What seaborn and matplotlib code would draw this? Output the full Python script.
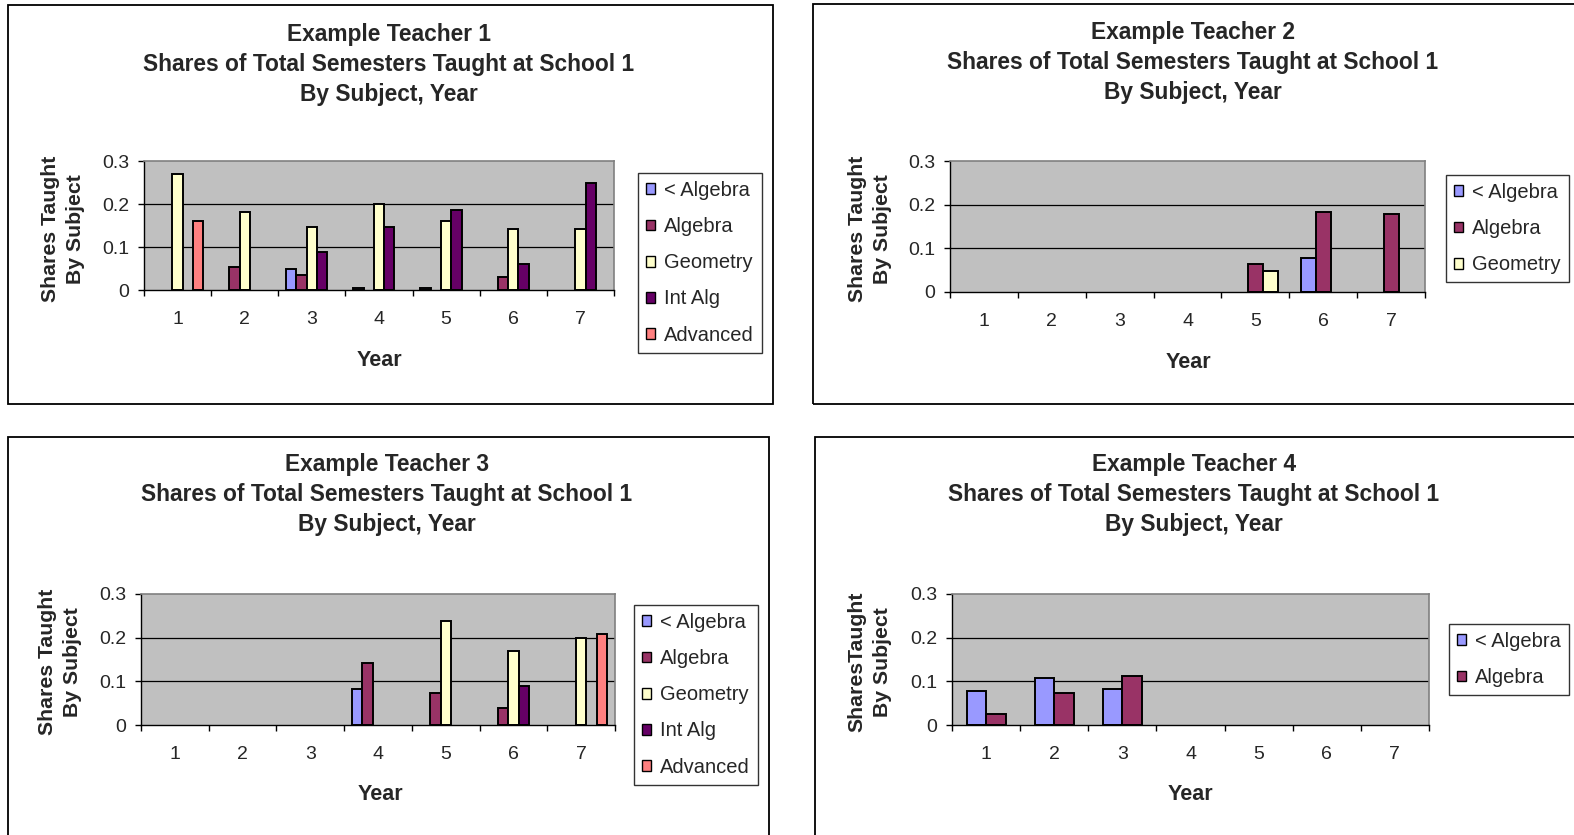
import numpy as np
import pandas as pd
import matplotlib
matplotlib.use("Agg")
import matplotlib.pyplot as plt
from matplotlib.patches import Rectangle, Patch
from matplotlib.ticker import FixedLocator, NullFormatter, FixedFormatter
import seaborn as sns

sns.set_theme(style="white")
plt.rcParams["font.family"] = ["Liberation Sans", "DejaVu Sans"]

nan = np.nan

# ---- data -------------------------------------------------------------
years = ["1", "2", "3", "4", "5", "6", "7"]
subjects = ["< Algebra", "Algebra", "Geometry", "Int Alg", "Advanced"]
colors = ["#9999FF", "#993366", "#FFFFCC", "#660066", "#FF8080"]

teacher_names = ["Example Teacher 1", "Example Teacher 2",
                 "Example Teacher 3", "Example Teacher 4"]
subtitle_lines = ["Shares of Total Semesters Taught at School 1",
                  "By Subject, Year"]
ylabels = ["Shares Taught\nBy Subject", "Shares Taught\nBy Subject",
           "Shares Taught\nBy Subject", "SharesTaught\nBy Subject"]
xlabel = "Year"
yticks = [0, 0.1, 0.2, 0.3]
ytick_labels = ["0", "0.1", "0.2", "0.3"]

# Teacher 1
t1_below_alg = [nan, nan, 0.049, 0.005, 0.005, nan, nan]
t1_alg       = [nan, 0.053, 0.036, nan, nan, 0.031, nan]
t1_geom      = [0.270, 0.181, 0.146, 0.200, 0.160, 0.141, 0.141]
t1_int_alg   = [nan, nan, 0.088, 0.146, 0.185, 0.061, 0.248]
t1_advanced  = [0.160, nan, nan, nan, nan, nan, nan]

# Teacher 2
t2_below_alg = [nan, nan, nan, nan, nan, 0.079, nan]
t2_alg       = [nan, nan, nan, nan, 0.065, 0.184, 0.179]
t2_geom      = [nan, nan, nan, nan, 0.049, nan, nan]

# Teacher 3
t3_below_alg = [nan, nan, nan, 0.083, nan, nan, nan]
t3_alg       = [nan, nan, nan, 0.143, 0.073, 0.039, nan]
t3_geom      = [nan, nan, nan, nan, 0.239, 0.169, 0.200]
t3_int_alg   = [nan, nan, nan, nan, nan, 0.090, nan]
t3_advanced  = [nan, nan, nan, nan, nan, nan, 0.209]

# Teacher 4
t4_below_alg = [0.078, 0.108, 0.083, nan, nan, nan, nan]
t4_alg       = [0.025, 0.073, 0.112, nan, nan, nan, nan]

panels = [
    [t1_below_alg, t1_alg, t1_geom, t1_int_alg, t1_advanced],
    [t2_below_alg, t2_alg, t2_geom],
    [t3_below_alg, t3_alg, t3_geom, t3_int_alg, t3_advanced],
    [t4_below_alg, t4_alg],
]

# ---- layout (pixels, origin top-left) --------------------------------
W, H = 1574, 835
fig = plt.figure(figsize=(W / 100, H / 100), dpi=100)
fig.patch.set_facecolor("white")


def fx(px):
    return px / W


def fy(py):
    return 1 - py / H


# chart-area frames: left, top, right, bottom
frames = [(8, 5, 773, 404), (813, 4, 1580, 404),
          (8, 437, 769, 840), (815, 437, 1580, 840)]
# plot areas: left, top, right, bottom
plot_areas = [(144, 161, 614, 290), (950, 161, 1425, 292),
              (141, 594, 615, 725), (952, 594, 1429, 725)]
# title line centres
title_x = [389, 1193, 387, 1194]
title_y = [(34, 64, 95), (33, 62, 93), (465, 495, 525), (465, 495, 525)]
ylabel_xy = [(63, 229), (870, 229), (60, 662), (870, 662)]
xlabel_xy = [(379, 361), (1188, 363), (380, 795), (1190, 795)]
legend_xy = [(638, 173), (1446, 175), (634, 605), (1449, 624)]

for i, series in enumerate(panels):
    l, t, r, b = frames[i]
    fig.patches.append(Rectangle((fx(l), fy(b)), (r - l) / W, (b - t) / H,
                                 transform=fig.transFigure, fill=False,
                                 edgecolor="black", linewidth=1.3, zorder=0))

    pl, pt, pr, pb = plot_areas[i]
    ax = fig.add_axes([fx(pl), fy(pb), (pr - pl) / W, (pb - pt) / H])
    ax.set_facecolor("#C0C0C0")

    n = len(series)
    rows = []
    for s_idx, vals in enumerate(series):
        for y_idx, v in enumerate(vals):
            if not np.isnan(v):
                rows.append({"Year": years[y_idx], "Subject": subjects[s_idx],
                             "Share": v})
    df = pd.DataFrame(rows)
    hue_order = subjects[:n]
    palette = dict(zip(subjects, colors))

    ax.yaxis.grid(False)
    for g in yticks[1:3]:
        ax.axhline(g, color="black", linewidth=0.9, zorder=0.5)

    sns.barplot(data=df, x="Year", y="Share", hue="Subject", order=years,
                hue_order=hue_order, palette=palette, saturation=1,
                width=n / (n + 1.5), edgecolor="black", linewidth=1.4,
                errorbar=None, legend=False, ax=ax, zorder=2)

    ax.set_xlim(-0.5, 6.5)
    ax.set_ylim(0, 0.3)
    ax.set_xlabel("")
    ax.set_ylabel("")

    # x: boundary ticks drawn, labels at category centres
    ax.xaxis.set_major_locator(FixedLocator(np.arange(-0.5, 7.0, 1.0)))
    ax.xaxis.set_major_formatter(NullFormatter())
    ax.xaxis.set_minor_locator(FixedLocator(np.arange(7)))
    ax.xaxis.set_minor_formatter(FixedFormatter(years))
    ax.tick_params(axis="x", which="major", direction="out", length=4.5,
                   width=1, color="black", bottom=True)
    ax.tick_params(axis="x", which="minor", length=0, pad=15,
                   labelsize=14, bottom=True)

    ax.yaxis.set_major_locator(FixedLocator(yticks))
    ax.yaxis.set_major_formatter(FixedFormatter(ytick_labels))
    ax.tick_params(axis="y", direction="out", length=4.5, width=1,
                   color="black", pad=6, labelsize=14, left=True)

    for side in ["top", "right"]:
        ax.spines[side].set_color("#808080")
        ax.spines[side].set_linewidth(1.2)
    for side in ["left", "bottom"]:
        ax.spines[side].set_color("black")
        ax.spines[side].set_linewidth(1.0)

    # titles
    lines = [teacher_names[i]] + subtitle_lines
    for txt, ty in zip(lines, title_y[i]):
        fig.text(fx(title_x[i]), fy(ty), txt, ha="center", va="center",
                 fontsize=16.4, fontweight="bold")

    fig.text(fx(ylabel_xy[i][0]), fy(ylabel_xy[i][1]), ylabels[i],
             rotation=90, ha="center", va="center", fontsize=15.3,
             fontweight="bold", linespacing=1.45, multialignment="center")
    fig.text(fx(xlabel_xy[i][0]), fy(xlabel_xy[i][1]), xlabel,
             ha="center", va="center", fontsize=15.5, fontweight="bold")

    handles = [Patch(facecolor=palette[s], edgecolor="black", linewidth=1.0)
               for s in hue_order]
    leg = ax.legend(handles, hue_order, loc="upper left",
                    bbox_to_anchor=(fx(legend_xy[i][0]), fy(legend_xy[i][1])),
                    bbox_transform=fig.transFigure, borderaxespad=0,
                    fontsize=14.5, frameon=True, fancybox=False,
                    handlelength=0.45, handleheight=0.45, handletextpad=0.45,
                    labelspacing=0.85, borderpad=0.4)
    leg.get_frame().set_edgecolor("black")
    leg.get_frame().set_linewidth(1.0)
    leg.get_frame().set_facecolor("white")

fig.savefig("out.png", dpi=100, facecolor="white")
